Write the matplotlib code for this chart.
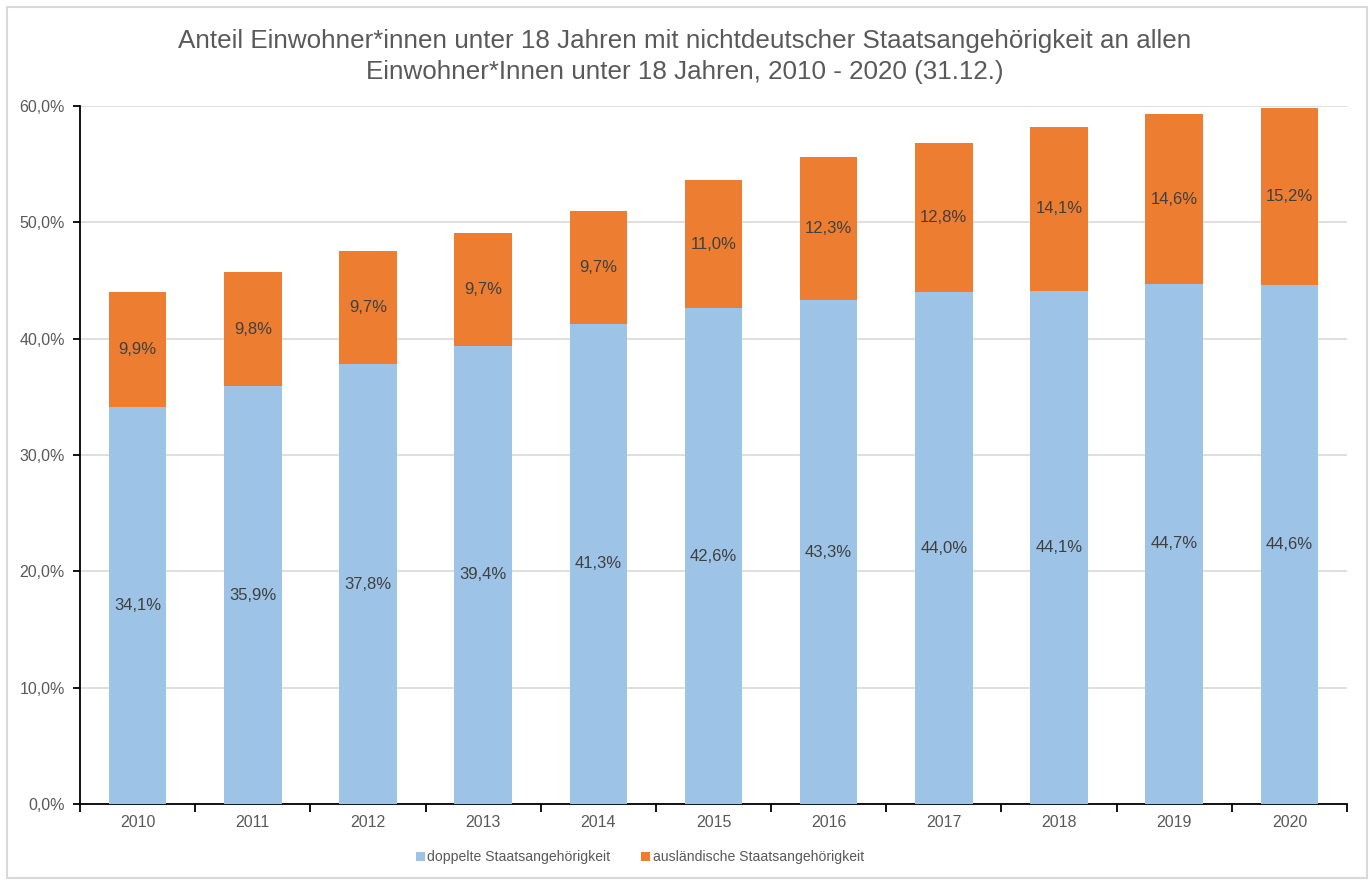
import matplotlib
matplotlib.use("Agg")
import matplotlib.pyplot as plt
from matplotlib.patches import Rectangle
from matplotlib.ticker import FixedLocator, NullFormatter
import numpy as np

years = ["2010", "2011", "2012", "2013", "2014", "2015", "2016", "2017", "2018", "2019", "2020"]
doppelte = [34.1, 35.9, 37.8, 39.4, 41.3, 42.6, 43.3, 44.0, 44.1, 44.7, 44.6]
auslaendisch = [9.9, 9.8, 9.7, 9.7, 9.7, 11.0, 12.3, 12.8, 14.1, 14.6, 15.2]
y_ticks = [0, 10, 20, 30, 40, 50, 60]
series_names = ["doppelte Staatsangehörigkeit", "ausländische Staatsangehörigkeit"]
title = ("Anteil Einwohner*innen unter 18 Jahren mit nichtdeutscher Staatsangehörigkeit an allen\n"
         "Einwohner*Innen unter 18 Jahren, 2010 - 2020 (31.12.)")

plt.rcParams['font.family'] = ['Liberation Sans', 'DejaVu Sans']
TXT = "#595959"
BLUE = "#9dc3e6"
ORANGE = "#ed7d31"

fig = plt.figure(figsize=(13.7, 8.82), dpi=100)
fig.patches.append(Rectangle((7/1370, 4/882), 1360/1370, 871/882, transform=fig.transFigure,
                             fill=False, edgecolor="#d9d9d9", linewidth=1.5))

ax = fig.add_axes([80/1370, 1 - 804/882, (1347 - 80)/1370, (804 - 106)/882])
x = np.arange(len(years))
b1 = ax.bar(x, doppelte, width=0.5, color=BLUE, label=series_names[0], zorder=3)
b2 = ax.bar(x, auslaendisch, width=0.5, bottom=doppelte, color=ORANGE, label=series_names[1], zorder=3)

def fmt(v):
    return f"{v:.1f}%".replace(".", ",")

for xi, d, a in zip(x, doppelte, auslaendisch):
    ax.text(xi, d / 2, fmt(d), ha="center", va="center", fontsize=12, color="#404040", zorder=4)
    ax.text(xi, d + a / 2, fmt(a), ha="center", va="center", fontsize=12, color="#404040", zorder=4)

ax.set_xlim(-0.5, len(years) - 0.5)
ax.set_ylim(0, 60)
ax.set_yticks(y_ticks)
ax.set_yticklabels([f"{t:.1f}%".replace(".", ",") for t in y_ticks], fontsize=11.5, color=TXT)
ax.yaxis.grid(True, color="#d9d9d9", linewidth=1.2, zorder=0)
ax.set_axisbelow(True)

ax.set_xticks(x)
ax.set_xticklabels(years, fontsize=11.5, color=TXT)
ax.tick_params(axis="x", which="major", length=0, pad=8)
ax.xaxis.set_minor_locator(FixedLocator(np.arange(-0.5, len(years), 1.0)))
ax.xaxis.set_minor_formatter(NullFormatter())
ax.tick_params(axis="x", which="minor", length=6, width=1.3, color="black", direction="out")
ax.tick_params(axis="y", length=5, width=1.3, color="black", direction="out", pad=6)

for s in ["top", "right"]:
    ax.spines[s].set_visible(False)
for s in ["left", "bottom"]:
    ax.spines[s].set_color("black")
    ax.spines[s].set_linewidth(1.3)

fig.text(0.5, 1 - 56.5/882, title, ha="center", va="center", fontsize=18.7, color=TXT, linespacing=1.4)

leg = fig.legend(handles=[b1, b2], labels=series_names, loc="center", bbox_to_anchor=(640/1370, 1 - 857/882),
                 ncol=2, frameon=False, fontsize=10.1, handlelength=0.6, handleheight=0.6,
                 handletextpad=0.2, columnspacing=2.2)
for t in leg.get_texts():
    t.set_color(TXT)

fig.savefig("out.png", dpi=100)
